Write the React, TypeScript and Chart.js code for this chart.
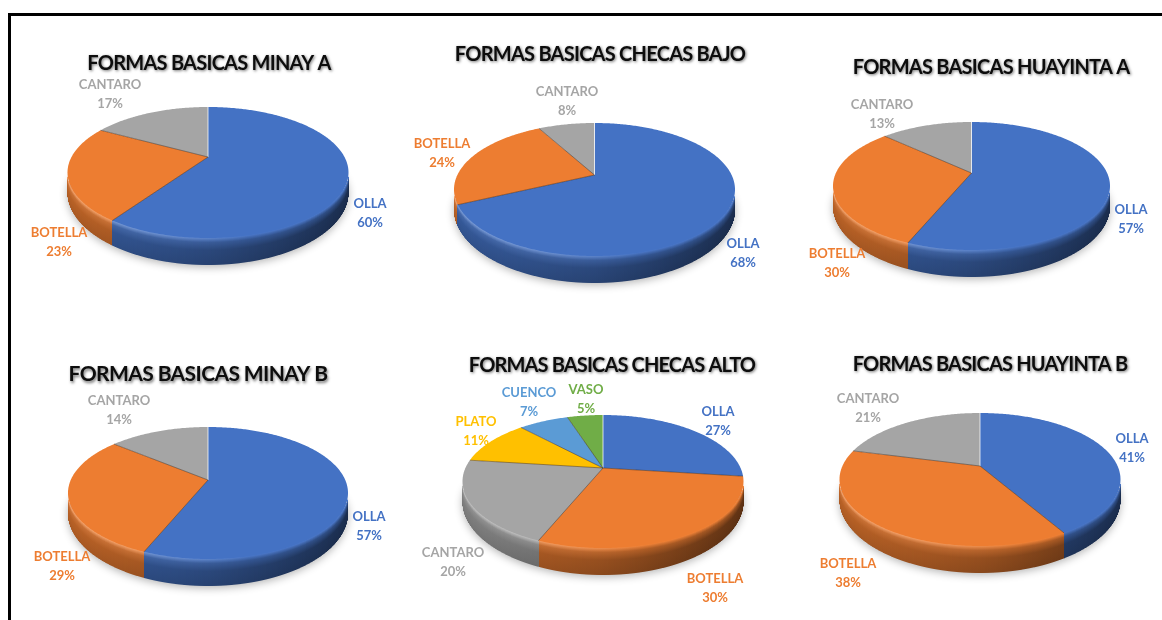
import React, { useEffect, useRef } from "react";
import { Chart, registerables } from "chart.js";

Chart.register(...registerables);

// ---- data ----
const titles = [
  "FORMAS BASICAS MINAY A",
  "FORMAS BASICAS CHECAS BAJO",
  "FORMAS BASICAS HUAYINTA A",
  "FORMAS BASICAS MINAY B",
  "FORMAS BASICAS CHECAS ALTO",
  "FORMAS BASICAS HUAYINTA B",
];
const threeForms = ["OLLA", "BOTELLA", "CANTARO"];
const sixForms = ["OLLA", "BOTELLA", "CANTARO", "PLATO", "CUENCO", "VASO"];
const minayA = [60, 23, 17];
const checasBajo = [68, 24, 8];
const huayintaA = [57, 30, 13];
const minayB = [57, 29, 14];
const checasAlto = [27, 30, 20, 11, 7, 5];
const huayintaB = [41, 38, 21];
const colors = ["#4472c4", "#ed7d31", "#a5a5a5", "#ffc000", "#5b9bd5", "#70ad47"];

// ---- layout (page pixels) ----
const W = 400;
const H = 280;
const panels = [
  { title: titles[0], labels: threeForms, values: minayA, size: 20, sp: -0.75, tx: 209, ty: 62, cx: 208, top: 107, apex: 157, front: 238, bottom: 265, rx: 140.5,
    lab: [[370, 203], [59, 232], [110, 84]] },
  { title: titles[1], labels: threeForms, values: checasBajo, size: 20, sp: -0.75, tx: 600, ty: 53, cx: 594.5, top: 123, apex: 175, front: 256, bottom: 283, rx: 140.5,
    lab: [[743, 243], [442, 143], [567, 91]] },
  { title: titles[2], labels: threeForms, values: huayintaA, size: 20, sp: -0.75, tx: 991, ty: 66, cx: 971.5, top: 122, apex: 173, front: 250, bottom: 277, rx: 138.5,
    lab: [[1131, 209], [837, 253], [882, 104]] },
  { title: titles[3], labels: threeForms, values: minayB, size: 21, sp: -0.6, tx: 198, ty: 373, cx: 208, top: 427, apex: 480, front: 559, bottom: 586, rx: 140,
    lab: [[369, 516], [62, 556], [119, 400]] },
  { title: titles[4], labels: sixForms, values: checasAlto, size: 20, sp: -0.85, tx: 612, ty: 364, cx: 603, top: 415, apex: 468, front: 548, bottom: 575, rx: 140.5,
    lab: [[718, 411], [715, 578], [453, 552], [476, 421], [529, 392], [586, 389]] },
  { title: titles[5], labels: threeForms, values: huayintaB, size: 20, sp: -0.8, tx: 990, ty: 363, cx: 980, top: 413, apex: 466, front: 546, bottom: 573, rx: 140.5,
    lab: [[1132, 438], [848, 563], [868, 398]] },
];

const hexRgb = (h: string) => [1, 3, 5].map((i) => parseInt(h.slice(i, i + 2), 16));
const css = (c: number[]) => `rgb(${c.map((v) => Math.round(Math.min(255, Math.max(0, v)))).join(",")})`;
const mul = (c: number[], k: number) => c.map((v) => v * k);
const mix = (c: number[], d: number[], k: number) => c.map((v, i) => v + (d[i] - v) * k);
const WHITE = [255, 255, 255];

const pie3dPlugin = {
  id: "pie3d",
  beforeDraw(chart: any, _a: any, o: any) {
    const ctx = chart.ctx;
    ctx.letterSpacing = `${o.sp}px`;
    ctx.shadowColor = "rgba(0,0,0,0.55)";
    ctx.shadowBlur = 3;
    ctx.shadowOffsetX = 1;
    ctx.shadowOffsetY = 1.5;
  },
  beforeDatasetsDraw(chart: any, _a: any, o: any) {
    const ctx = chart.ctx;
    ctx.letterSpacing = "0px";
    ctx.shadowColor = "transparent";
    ctx.shadowBlur = 0;
    ctx.shadowOffsetX = 0;
    ctx.shadowOffsetY = 0;

    const g = o.geom;
    const back = g.apex - g.top;
    const frontR = g.front - g.apex;
    const p = (frontR - back) / (frontR + back);
    const b = back * (1 + p);
    const a = g.rx * Math.sqrt(1 - p * p);
    const h = g.bottom - g.front;
    const cx = g.cx - g.left;
    const cy = g.apex - g.ctop;
    const pt = (phi0: number) => {
      // slices near the viewer look a little narrower in the reference's perspective
      let d = Math.atan2(Math.sin(phi0 - Math.PI / 2), Math.cos(phi0 - Math.PI / 2));
      if (Math.abs(d) < Math.PI / 4) d -= 0.05 * Math.sin(4 * d);
      const phi = d + Math.PI / 2;
      const u = Math.cos(phi);
      const v = Math.sin(phi);
      const w = 1 - p * v;
      return [cx + (a * u) / w, cy + (b * v) / w, v];
    };
    const wallH = (x: number) => {
      const r = Math.min(1, Math.abs(x - cx) / g.rx);
      return h * (0.72 + 0.28 * Math.sqrt(1 - r * r));
    };
    const meta = chart.getDatasetMeta(0);
    const arcs = meta.data.map((el: any) => el.getProps(["startAngle", "endAngle"], true));
    const step = Math.PI / 240;

    // soft ground shadow, hidden under the wall except for its blur
    ctx.save();
    ctx.shadowColor = "rgba(0,0,0,0.3)";
    ctx.shadowBlur = 9;
    ctx.shadowOffsetY = 3;
    ctx.fillStyle = "#bbb";
    ctx.beginPath();
    for (let t = 0; t < Math.PI * 2; t += step * 2) {
      const q = pt(t);
      ctx.lineTo(q[0], q[1] + wallH(q[0]) - 1);
    }
    ctx.closePath();
    ctx.fill();
    ctx.restore();

    // side wall: front edge of the pie per pixel column
    const cols = new Map<number, { y: number; i: number }>();
    arcs.forEach((arc: any, i: number) => {
      for (let t = arc.startAngle; t <= arc.endAngle; t += step / 4) {
        const q = pt(t);
        if (q[2] < -0.2) continue;
        const x = Math.floor(q[0]);
        const c = cols.get(x);
        if (!c || q[1] > c.y) cols.set(x, { y: q[1], i });
      }
    });
    cols.forEach(({ y, i }, x) => {
      const base = hexRgb(colors[i]);
      const f = (x + 0.5 - (cx - g.rx)) / (2 * g.rx);
      const shade = f < 0.5 ? 0.78 - 0.3 * f : 0.63 - 0.44 * (f - 0.5);
      const hi = Math.max(0.03, 0.28 * (1 - Math.pow(f * 1.45, 2)));
      const body = mul(base, shade);
      const hc = wallH(x + 0.5);
      const grad = ctx.createLinearGradient(0, y, 0, y + hc);
      grad.addColorStop(0, css(mix(base, WHITE, hi)));
      grad.addColorStop(0.16, css(mix(mul(base, 0.45 + shade / 2), WHITE, hi * 0.2)));
      grad.addColorStop(0.45, css(body));
      grad.addColorStop(1, css(mul(body, 0.92)));
      ctx.fillStyle = grad;
      ctx.fillRect(x, y - 1, 1, hc + 1);
    });

    // top face
    arcs.forEach((arc: any, i: number) => {
      ctx.fillStyle = colors[i];
      ctx.beginPath();
      ctx.moveTo(cx, cy);
      for (let t = arc.startAngle; t < arc.endAngle; t += step) {
        const q = pt(t);
        ctx.lineTo(q[0], q[1]);
      }
      const e = pt(arc.endAngle);
      ctx.lineTo(e[0], e[1]);
      ctx.closePath();
      ctx.fill();
    });

    // slice borders
    arcs.forEach((arc: any, i: number) => {
      const q = pt(arc.startAngle);
      ctx.beginPath();
      ctx.moveTo(cx, cy);
      ctx.lineTo(q[0], q[1]);
      ctx.lineWidth = i === 0 ? 1 : 0.8;
      ctx.strokeStyle = i === 0 ? "rgba(255,255,255,0.75)" : "rgba(50,30,15,0.55)";
      ctx.stroke();
    });

    // data labels
    ctx.font = 'bold 13px Lato, "Open Sans", sans-serif';
    ctx.textAlign = "center";
    ctx.textBaseline = "middle";
    chart.data.labels.forEach((label: string, i: number) => {
      const [lx, ly] = o.lab[i];
      ctx.fillStyle = colors[i];
      ctx.fillText(label, lx - g.left, ly + 0.5 - g.ctop);
      ctx.fillText(`${chart.data.datasets[0].data[i]}%`, lx - g.left, ly + 20 - g.ctop);
    });
    return false;
  },
};

function Panel({ panel }: { panel: (typeof panels)[number] }) {
  const ref = useRef<HTMLCanvasElement | null>(null);
  const left = panel.tx - W / 2;
  const ctop = panel.ty - 30;
  useEffect(() => {
    const chart = new Chart(ref.current as HTMLCanvasElement, {
      type: "pie",
      data: {
        labels: panel.labels,
        datasets: [{ data: panel.values, backgroundColor: colors.slice(0, panel.values.length), borderWidth: 0 }],
      },
      options: {
        animation: false,
        responsive: false,
        devicePixelRatio: 1,
        events: [],
        layout: { padding: 0 },
        plugins: {
          legend: { display: false },
          tooltip: { enabled: false },
          title: {
            display: true,
            text: panel.title,
            color: "#0d0d0d",
            font: { family: 'Lato, "Open Sans", sans-serif', size: panel.size, weight: "bold", lineHeight: 1.2 },
            padding: { top: 31.5 - (panel.size * 1.2) / 2, bottom: 0 },
          },
          pie3d: {
            sp: panel.sp,
            geom: { cx: panel.cx, top: panel.top, apex: panel.apex, front: panel.front, bottom: panel.bottom, rx: panel.rx, left, ctop },
            lab: panel.lab,
          },
        },
      } as any,
      plugins: [pie3dPlugin as any],
    });
    return () => chart.destroy();
  }, []);
  return (
    <canvas
      ref={ref}
      width={W}
      height={H}
      style={{ position: "absolute", left, top: ctop, width: W, height: H, filter: "blur(0.4px)" }}
    />
  );
}

export default function App() {
  return (
    <div style={{ position: "fixed", left: 0, top: 0, width: 1162, height: 620, overflow: "hidden", background: "#fff" }}>
      <div style={{ position: "absolute", left: 8, top: 13, width: 1154, height: 607, borderLeft: "3px solid #000", borderTop: "3px solid #000", boxSizing: "border-box" }} />
      {panels.map((p) => (
        <Panel key={p.title} panel={p} />
      ))}
    </div>
  );
}
